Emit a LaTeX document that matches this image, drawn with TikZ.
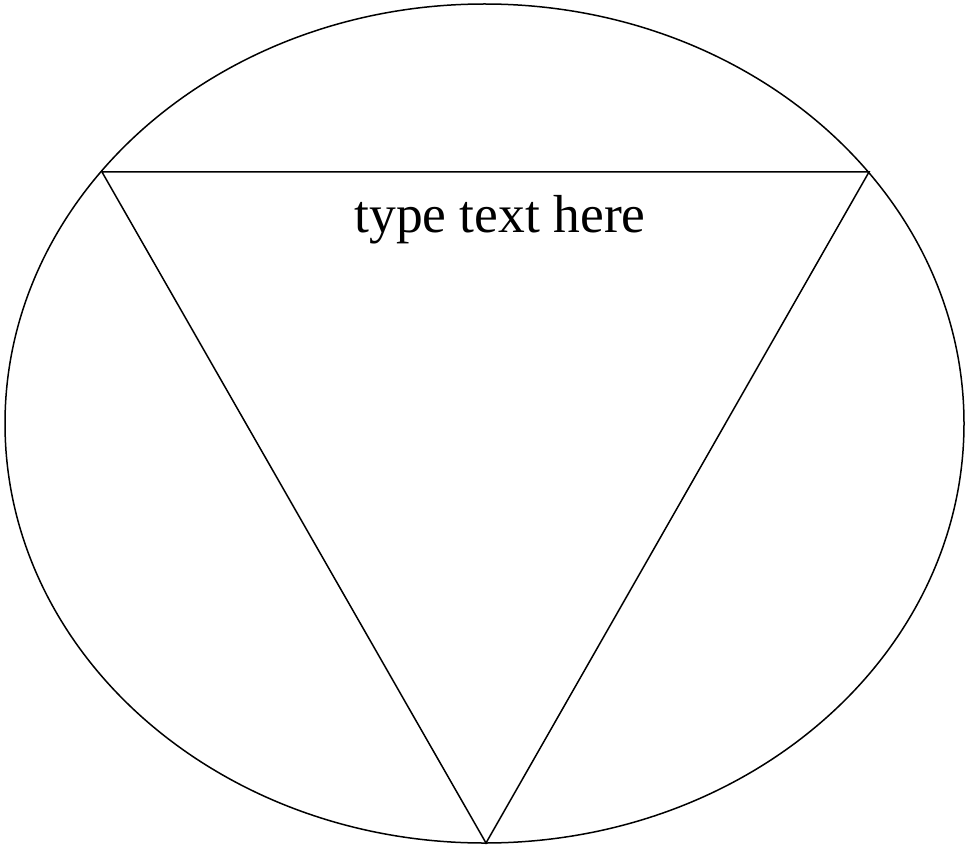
\documentclass[tikz,border=0pt]{standalone}
\usepackage{fontspec}
\setmainfont{Liberation Serif}

\begin{document}
\begin{tikzpicture}[
    x=1pt,
    y=-1pt,
    line width=1.5pt,
    label/.style={font=\fontsize{53.5}{62}\selectfont, inner sep=0pt, anchor=base}
]
\useasboundingbox (0,0) rectangle (966,845);

\draw (484.5,423.5) ellipse [x radius=479.5, y radius=419.5];

\coordinate (tl) at (102,172);
\coordinate (tr) at (869,172);
\coordinate (bt) at (486,843);
\draw[line join=miter] (tl) -- (tr) -- (bt) -- cycle;

\node[label] (caption) at (500,233) {type text here};
\end{tikzpicture}
\end{document}
